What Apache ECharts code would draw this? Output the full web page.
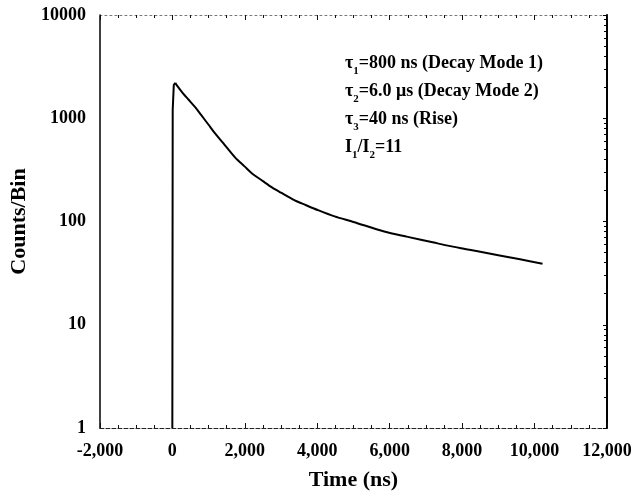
<!DOCTYPE html>
<html>
<head>
<meta charset="utf-8">
<script src="https://cdn.jsdelivr.net/npm/echarts@6/dist/echarts.min.js"></script>
<style>html,body{margin:0;padding:0;background:#fff;}#c{width:637px;height:497px;}</style>
</head>
<body>
<div id="c"></div>
<script>
// Data
const timeNs = [0, 10, 40, 80, 140, 300, 450, 630, 800, 1000, 1180, 1400, 1730, 2000, 2200, 2500, 2750, 3000, 3380, 3570, 4040, 4480, 5000, 5850, 6500, 7220, 7970, 8430, 9070, 9600, 10220];
const counts = [1, 1200, 2100, 2200, 2050, 1730, 1510, 1280, 1070, 865, 714, 577, 418, 340, 292, 246, 214, 190, 160, 150, 128, 112, 99, 80, 71, 62.5, 55, 51.5, 46.7, 43, 39];
const xTicks = [-2000, 0, 2000, 4000, 6000, 8000, 10000, 12000];
const yTicks = [1, 10, 100, 1000, 10000];
const annotations = [
  ['τ', '1', '=800 ns (Decay Mode 1)'],
  ['τ', '2', '=6.0 μs (Decay Mode 2)'],
  ['τ', '3', '=40 ns (Rise)'],
  ['I', '1', '/I', '2', '=11']
];

const FONT = "'Liberation Serif', 'DejaVu Serif', serif";
const chart = echarts.init(document.getElementById('c'), null, {renderer: 'canvas'});

function fmtX(v) {
  const s = Math.abs(v).toString().replace(/\B(?=(\d{3})+(?!\d))/g, ',');
  return (v < 0 ? '-' : '') + s;
}

const annText = annotations.map(parts =>
  parts.map((p, i) => (i % 2 === 1 ? '{s|' + p + '}' : '{a|' + p + '}')).join('')
).join('\n');

const points = timeNs.map((t, i) => [t, counts[i]]);
const PEAK = 3; // index of the peak: rise drawn straight, decay drawn smooth

const xCommon = {
  type: 'value', min: xTicks[0], max: xTicks[xTicks.length - 1], interval: 2000,
  splitLine: {show: false},
  axisTick: {show: true, inside: true, length: 5, lineStyle: {color: '#111', width: 1}},
  minorTick: {show: true, splitNumber: 4, length: 3, lineStyle: {color: '#111', width: 1}},
  minorSplitLine: {show: false}
};

chart.setOption({
  animation: false,
  backgroundColor: '#fff',
  grid: {left: 97, right: 30, top: 15, bottom: 69, containLabel: false},
  xAxis: [
    Object.assign({}, xCommon, {
      position: 'bottom',
      axisLine: {show: true, onZero: false, lineStyle: {color: '#222', width: 1, type: [4, 2]}},
      axisLabel: {show: true, margin: 14, color: '#000', fontFamily: FONT, fontWeight: 'bold', fontSize: 18,
        formatter: fmtX},
      name: 'Time (ns)', nameLocation: 'middle', nameGap: 41,
      nameTextStyle: {color: '#000', fontFamily: FONT, fontWeight: 'bold', fontSize: 22}
    }),
    Object.assign({}, xCommon, {
      position: 'top',
      axisLine: {show: true, onZero: false, lineStyle: {color: '#777', width: 1, type: [2, 3]}},
      axisLabel: {show: false}
    })
  ],
  yAxis: [
    {
      type: 'log', logBase: 10, min: yTicks[0], max: yTicks[yTicks.length - 1],
      position: 'left',
      splitLine: {show: false},
      axisLine: {show: true, onZero: false, lineStyle: {color: '#000', width: 1.5}},
      axisTick: {show: false},
      axisLabel: {show: true, margin: 14, color: '#000', fontFamily: FONT, fontWeight: 'bold', fontSize: 18,
        formatter: v => String(v)},
      name: 'Counts/Bin', nameLocation: 'middle', nameGap: 68, nameRotate: 90,
      nameTextStyle: {color: '#000', fontFamily: FONT, fontWeight: 'bold', fontSize: 22}
    },
    {
      type: 'log', logBase: 10, min: yTicks[0], max: yTicks[yTicks.length - 1],
      position: 'right',
      splitLine: {show: false},
      axisLine: {show: true, onZero: false, lineStyle: {color: '#000', width: 2}},
      axisTick: {show: true, inside: true, length: 4, lineStyle: {color: '#000', width: 1}},
      minorTick: {show: true, splitNumber: 9, length: 3, lineStyle: {color: '#000', width: 1}},
      axisLabel: {show: false}
    }
  ],
  series: [{
    type: 'line',
    xAxisIndex: 0, yAxisIndex: 0,
    data: points.slice(0, PEAK + 1),
    showSymbol: false,
    smooth: false,
    lineStyle: {color: '#000', width: 2}
  }, {
    type: 'line',
    xAxisIndex: 0, yAxisIndex: 0,
    data: points.slice(PEAK),
    showSymbol: false,
    smooth: 0.3,
    lineStyle: {color: '#000', width: 2}
  }],
  graphic: [{
    type: 'text',
    left: 345, top: 54,
    style: {
      text: annText,
      fill: '#000',
      font: 'bold 18px ' + FONT,
      rich: {
        a: {fontFamily: FONT, fontWeight: 'bold', fontSize: 18, lineHeight: 28, fill: '#000', color: '#000'},
        s: {fontFamily: FONT, fontWeight: 'bold', fontSize: 11, lineHeight: 28, verticalAlign: 'bottom', fill: '#000', color: '#000'}
      }
    }
  }]
});
</script>
</body>
</html>
